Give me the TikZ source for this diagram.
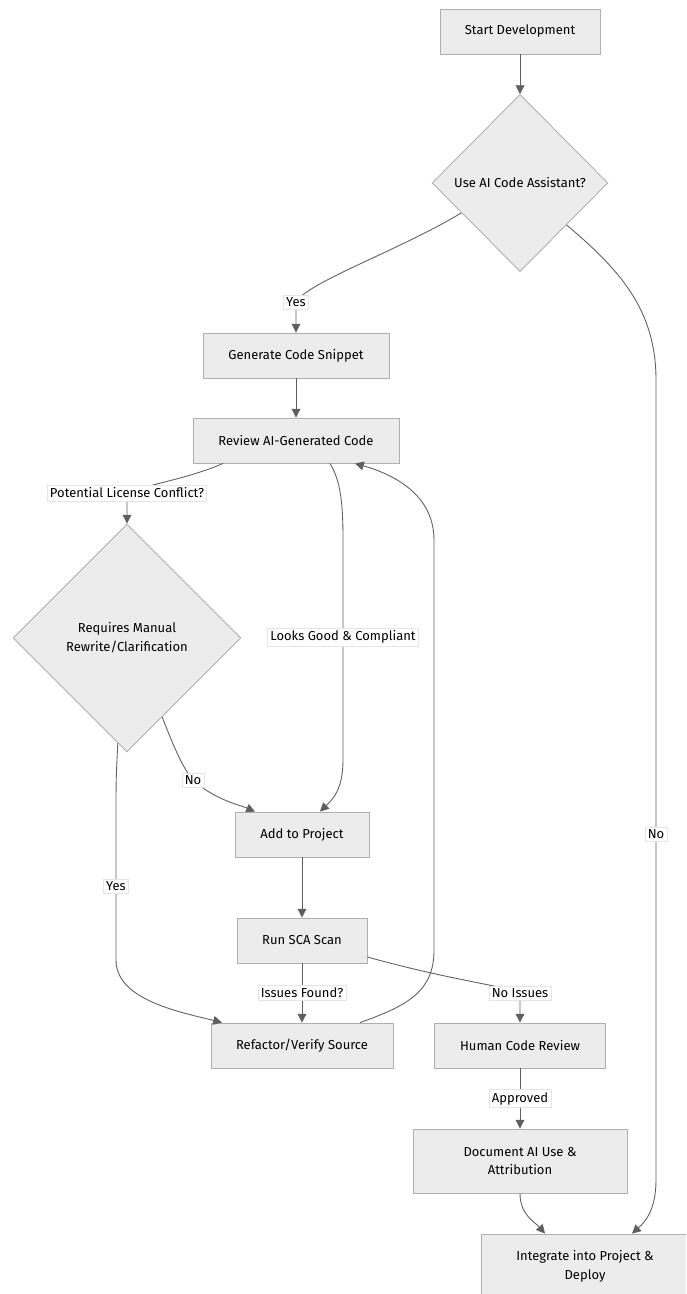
\documentclass[tikz,border=0pt]{standalone}
\usepackage{fontspec}
\setmainfont{Fira Sans}
\usetikzlibrary{shapes.geometric,arrows.meta,calc}
\definecolor{boxfill}{RGB}{236,236,236}
\definecolor{boxline}{RGB}{175,175,175}
\definecolor{edgecol}{RGB}{95,95,95}

\begin{document}
\begin{tikzpicture}[
    x=0.02cm, y=0.02cm,
    line width=0.5pt,
    font=\fontsize{7.4}{10.8}\selectfont,
    box/.style={rectangle, draw=boxline, fill=boxfill, minimum height=0.9cm, align=center},
    decision/.style={diamond, draw=boxline, fill=boxfill, inner sep=0pt, align=center},
    lbl/.style={fill=white, draw=black!10, line width=0.3pt, inner sep=1.5pt},
    >={Triangle[length=5pt,width=5pt]}
]
\useasboundingbox (0,0) rectangle (686,-1294);
\clip (0,0) rectangle (686,-1294);

% Main column
\node[box, minimum width=3.2cm] (start) at (520,-31.5) {Start Development};
\node[decision, minimum width=3.52cm, minimum height=3.54cm] (dAI) at (520,-183) {Use AI Code Assistant?};
\node[box, minimum width=3.72cm] (gen) at (296,-355.5) {Generate Code Snippet};
\node[box, minimum width=4.12cm] (rev) at (296,-440.5) {Review AI-Generated Code};
\node[decision, minimum width=4.56cm, minimum height=4.56cm] (dMan) at (127,-638) {Requires Manual\\Rewrite/Clarification};
\node[box, minimum width=2.68cm] (add) at (302,-834.5) {Add to Project};
\node[box, minimum width=2.6cm] (sca) at (302,-940.5) {Run SCA Scan};
\node[box, minimum width=3.64cm] (refac) at (302,-1045.5) {Refactor/Verify Source};

% Right column
\node[box, minimum width=3.42cm] (human) at (520,-1045.5) {Human Code Review};
\node[box, minimum width=4.28cm, minimum height=1.28cm] (doc) at (520,-1161) {Document AI Use \&\\Attribution};
\node[box, minimum width=4.16cm, minimum height=1.28cm] (integ) at (585,-1266) {Integrate into Project \&\\Deploy};

% Connections
\draw[->, edgecol] (start) -- (dAI);
\draw[->, edgecol] (dAI.207) .. controls (400,-250) and (308,-282) .. (296,-302)
    node[lbl, text=black] (lYes) {Yes} .. controls (296,-318) .. (gen.north);
\draw[->, edgecol] (dAI.318) .. controls (620,-270) and (656,-310) .. (656,-380) -- (656,-834)
    node[lbl, text=black] (lNo) {No} -- (656,-1180) .. controls (656,-1210) and (645,-1222) .. ($(integ.north)+(47,0)$);
\draw[->, edgecol] (gen) -- (rev);
\draw[->, edgecol] ($(rev.south)+(-73,0)$) .. controls (190,-478) and (150,-484) .. (127,-493)
    node[lbl, text=black] (lPot) {Potential License Conflict?} .. controls (127,-508) .. (dMan.north);
\draw[->, edgecol] ($(rev.south)+(34,0)$) .. controls (340,-480) and (343,-500) .. (343,-540) -- (343,-637)
    node[lbl, text=black] (lLooks) {Looks Good \& Compliant} -- (343,-760) .. controls (343,-790) and (332,-800) .. ($(add.north)+(18,0)$);
\draw[->, edgecol] (dMan.294) .. controls (175,-750) and (183,-768) .. (193,-780)
    node[lbl, text=black] (lNo2) {No} .. controls (215,-800) and (240,-805) .. ($(add.north)+(-47,0)$);
\draw[->, edgecol] (dMan.265) .. controls (116,-780) .. (116,-820) -- (116,-886)
    node[lbl, text=black] (lYes2) {Yes} -- (116,-960) .. controls (116,-1000) and (180,-1012) .. ($(refac.north)+(-80,0)$);
\draw[->, edgecol] (add) -- (sca);
\draw[->, edgecol] (sca) -- node[lbl, text=black] (lIss) {Issues Found?} (refac);
\draw[->, edgecol] ($(sca.east)+(0,-16.5)$) .. controls (450,-980) and (505,-986) .. (520,-993)
    node[lbl, text=black] (lNoIss) {No Issues} .. controls (520,-1006) .. (human.north);
\draw[->, edgecol] ($(refac.north)+(58,0)$) .. controls (410,-1005) and (434,-990) .. (434,-950) -- (434,-540)
    .. controls (434,-490) and (385,-472) .. ($(rev.south)+(59,0)$);
\draw[->, edgecol] (human) -- node[lbl, text=black] (lApp) {Approved} (doc);
\draw[->, edgecol] (doc.south) .. controls (520,-1215) and (535,-1222) .. ($(integ.north)+(-40,0)$);
\end{tikzpicture}
\end{document}
